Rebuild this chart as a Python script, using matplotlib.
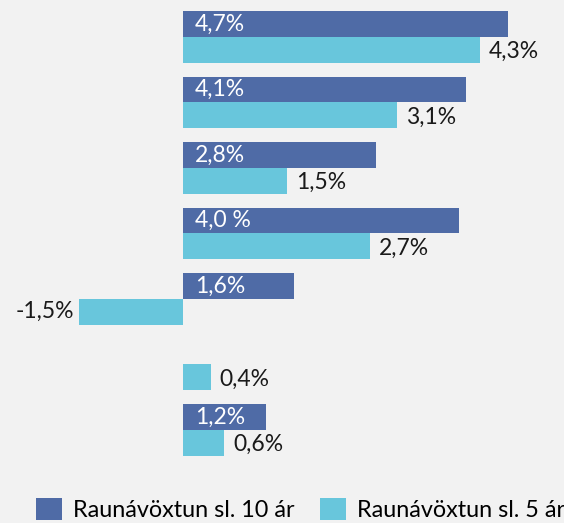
import matplotlib
matplotlib.use("Agg")
import matplotlib.pyplot as plt
from matplotlib.patches import Patch

plt.rcParams['font.family'] = ['Lato', 'DejaVu Sans']

series_names = ["Raunávöxtun sl. 10 ár", "Raunávöxtun sl. 5 ár"]
values_10 = [4.7, 4.1, 2.8, 4.0, 1.6, None, 1.2]
values_5 = [4.3, 3.1, 1.5, 2.7, -1.5, 0.4, 0.6]
labels_10 = ["4,7%", "4,1%", "2,8%", "4,0 %", "1,6%", "", "1,2%"]
labels_5 = ["4,3%", "3,1%", "1,5%", "2,7%", "-1,5%", "0,4%", "0,6%"]

c10 = "#4f6ba6"
c5 = "#68c6dc"
bg = "#f2f2f2"

W, H = 564, 523
fig = plt.figure(figsize=(W / 100, H / 100), dpi=100, facecolor=bg)
ax = fig.add_axes([0, 0, 1, 1])
ax.set_facecolor(bg)

px_per_unit = 69.1
zero_px = 183
ax.set_xlim(-zero_px / px_per_unit, (W - zero_px) / px_per_unit)
pitch = 65.5
first_center = 37
ax.set_ylim((H - first_center) / pitch, -first_center / pitch)

bh = 0.39
n = len(values_5)
fs = 16.5
for i in range(n):
    v10 = values_10[i]
    v5 = values_5[i]
    if v10 is not None:
        ax.barh(i - bh / 2, v10, height=bh, color=c10, linewidth=0)
        ax.annotate(labels_10[i], xy=(0, i - bh / 2), xytext=(12, 0),
                    textcoords="offset pixels", ha="left", va="center",
                    color="white", fontsize=fs)
    ax.barh(i + bh / 2, v5, height=bh, color=c5, linewidth=0)
    if v5 >= 0:
        ax.annotate(labels_5[i], xy=(v5, i + bh / 2), xytext=(9, -2),
                    textcoords="offset pixels", ha="left", va="center",
                    color="#1a1a1a", fontsize=fs)
    else:
        ax.annotate(labels_5[i], xy=(v5, i + bh / 2), xytext=(-5, 0),
                    textcoords="offset pixels", ha="right", va="center",
                    color="#1a1a1a", fontsize=fs)

ax.axis("off")

lfs = 16.8
handles = [Patch(facecolor=c10, edgecolor="none"), Patch(facecolor=c5, edgecolor="none")]
fig.legend(handles, series_names, loc="lower left",
           bbox_to_anchor=(36 / W, 2 / H), ncol=2, frameon=False,
           fontsize=lfs, handlelength=1.11, handleheight=1.11,
           handletextpad=0.47, columnspacing=1.1, borderpad=0, borderaxespad=0)

fig.savefig("out.png", dpi=100, facecolor=bg)
